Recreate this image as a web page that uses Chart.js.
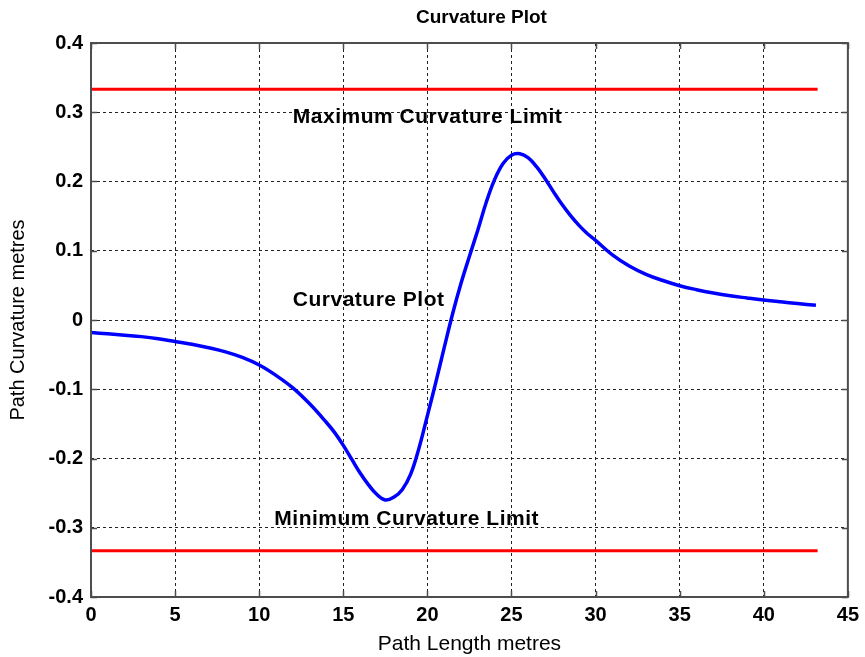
<!DOCTYPE html>
<html>
<head>
<meta charset="utf-8">
<script src="https://cdn.jsdelivr.net/npm/chart.js@4.4.1/dist/chart.umd.min.js"></script>
<style>
    html, body { margin: 0; padding: 0; background: #fff; }
</style>
</head>
<body>
<canvas id="curvatureChart" width="865" height="657"></canvas>
<script>
// path length (m) and curvature
const pathLength = [0, 1, 2, 3, 4, 5, 6, 7, 8, 9, 10, 11, 12, 13, 14, 14.5, 15, 15.5, 16, 16.5, 17, 17.5, 18, 18.5, 19, 19.5, 20, 20.5, 21, 21.5, 22, 22.5, 23, 23.5, 24, 24.5, 25, 25.5, 26, 26.5, 27, 27.5, 28, 28.5, 29, 29.5, 30, 31, 32, 33, 34, 35, 36, 37, 38, 39, 40, 41, 42, 43.1]
const curvature = [-0.018, -0.020, -0.022, -0.024, -0.027, -0.031, -0.035, -0.040, -0.046, -0.054, -0.065, -0.080, -0.098, -0.121, -0.148, -0.163, -0.181, -0.201, -0.221, -0.238, -0.252, -0.260, -0.256, -0.245, -0.223, -0.185, -0.138, -0.090, -0.040, 0.009, 0.053, 0.092, 0.130, 0.170, 0.203, 0.226, 0.238, 0.240, 0.234, 0.221, 0.204, 0.185, 0.167, 0.151, 0.137, 0.125, 0.115, 0.094, 0.078, 0.066, 0.057, 0.0495, 0.0438, 0.039, 0.035, 0.0318, 0.0288, 0.0262, 0.0238, 0.0212]

const limitX = [0, 43.2]
const maxLimit = [0.3333, 0.3333]
const minLimit = [-0.3333, -0.3333]

const xTicks = [0, 5, 10, 15, 20, 25, 30, 35, 40, 45]
const yTicks = [-0.4, -0.3, -0.2, -0.1, 0, 0.1, 0.2, 0.3, 0.4]

const noteText = ["Maximum Curvature Limit", "Curvature Plot", "Minimum Curvature Limit"]
const noteX = [12.0, 12.0, 10.9]
const noteY = [0.293, 0.029, -0.288]

const FONT = "'Liberation Sans', Arial, sans-serif"

const toPoints = (xs, ys) => xs.map((x, i) => ({ x: x, y: ys[i] }))

// frame, inward ticks, text notes and title like the matlab figure
const matlabLook = {
    id: "matlabLook",
    afterDraw(chart) {
        const { ctx, chartArea, scales } = chart
        const { left, right, top, bottom } = chartArea
        ctx.save()

        ctx.strokeStyle = "#4d4d4d"
        ctx.lineWidth = 1.5
        xTicks.forEach(v => {
            const px = Math.round(scales.x.getPixelForValue(v)) + 0.5
            ctx.beginPath()
            ctx.moveTo(px, bottom); ctx.lineTo(px, bottom - 6)
            ctx.moveTo(px, top); ctx.lineTo(px, top + 6)
            ctx.stroke()
        })
        yTicks.forEach(v => {
            const py = Math.round(scales.y.getPixelForValue(v)) + 0.5
            ctx.beginPath()
            ctx.moveTo(left, py); ctx.lineTo(left + 6, py)
            ctx.moveTo(right, py); ctx.lineTo(right - 6, py)
            ctx.stroke()
        })
        ctx.lineWidth = 2
        ctx.strokeRect(left, top, right - left, bottom - top)

        ctx.fillStyle = "#000"
        ctx.font = "bold 21px " + FONT
        ctx.letterSpacing = "0.5px"
        ctx.textAlign = "left"
        ctx.textBaseline = "middle"
        noteText.forEach((t, i) => {
            ctx.fillText(t, scales.x.getPixelForValue(noteX[i]), scales.y.getPixelForValue(noteY[i]))
        })

        ctx.letterSpacing = "0px"
        ctx.font = "bold 19px " + FONT
        ctx.textAlign = "center"
        ctx.fillText("Curvature Plot", (left + right) / 2 + 12, 18)
        ctx.restore()
    }
}

const canvas = document.getElementById("curvatureChart")
new Chart(canvas, {
    type: "line",
    data: {
        datasets: [
            {
                label: "Curvature",
                data: toPoints(pathLength, curvature),
                borderColor: "#0000ff",
                borderWidth: 3.5,
                pointRadius: 0,
                tension: 0.4,
                fill: false,
            },
            {
                label: "Maximum Curvature Limit",
                data: toPoints(limitX, maxLimit),
                borderColor: "#ff0000",
                borderWidth: 3,
                pointRadius: 0,
                fill: false,
            },
            {
                label: "Minimum Curvature Limit",
                data: toPoints(limitX, minLimit),
                borderColor: "#ff0000",
                borderWidth: 3,
                pointRadius: 0,
                fill: false,
            },
        ]
    },
    options: {
        responsive: false,
        animation: false,
        layout: { padding: { top: 43, right: 16, bottom: 0, left: 0 } },
        plugins: {
            legend: { display: false },
            tooltip: { enabled: false },
        },
        scales: {
            x: {
                type: "linear",
                min: 0,
                max: 45,
                afterBuildTicks: s => { s.ticks = xTicks.map(v => ({ value: v })) },
                afterFit: s => { s.height = 60 },
                ticks: {
                    color: "#000",
                    padding: 6,
                    font: { family: FONT, size: 20, weight: "bold" },
                },
                grid: { color: "#222", lineWidth: 1, drawTicks: false },
                border: { display: false, dash: [3, 3] },
                title: {
                    display: true,
                    text: "Path Length metres",
                    color: "#000",
                    font: { family: FONT, size: 21 },
                    padding: { top: 4, bottom: 0 },
                },
            },
            y: {
                min: -0.4,
                max: 0.4,
                afterBuildTicks: s => { s.ticks = yTicks.map(v => ({ value: v })) },
                afterFit: s => { s.width = 91 },
                ticks: {
                    color: "#000",
                    padding: 8,
                    font: { family: FONT, size: 20, weight: "bold" },
                    callback: v => String(Number(v.toFixed(1))),
                },
                grid: { color: "#222", lineWidth: 1, drawTicks: false },
                border: { display: false, dash: [3, 3] },
                title: {
                    display: true,
                    text: "Path Curvature metres",
                    color: "#000",
                    font: { family: FONT, size: 20 },
                    padding: { top: 6, bottom: 0 },
                },
            },
        },
    },
    plugins: [matlabLook],
})
</script>
</body>
</html>
